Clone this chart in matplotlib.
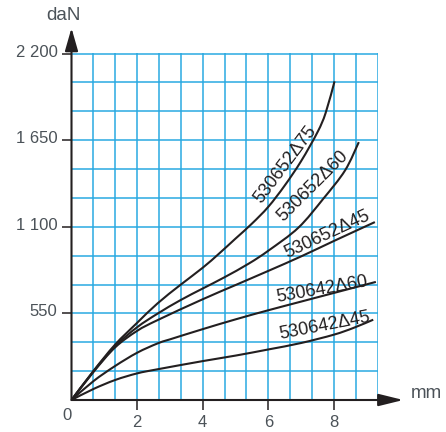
import numpy as np
import matplotlib
matplotlib.use('Agg')
from matplotlib import pyplot as plt
from matplotlib.path import Path
from matplotlib.patches import PathPatch
from matplotlib.transforms import ScaledTranslation

plt.rcParams['font.family'] = ['Liberation Sans', 'DejaVu Sans']

# curves: displacement (mm) -> force (daN)
x_652_75 = [0, 0.67, 1.33, 2, 2.62, 3.32, 4, 4.5, 5, 5.5, 6, 6.5, 7, 7.5, 7.75, 8.02]
y_652_75 = [0, 185, 352, 490, 613, 731, 840, 930, 1025, 1120, 1227, 1362, 1517, 1701, 1824, 2024]

x_652_60 = [0, 0.67, 1.33, 2, 2.62, 3.32, 4, 4.65, 5.41, 6.02, 6.92, 7.68, 8.34, 8.76]
y_652_60 = [0, 182, 342, 462, 548, 634, 708, 778, 867, 951, 1095, 1279, 1458, 1638]

x_652_45 = [0, 0.67, 1.33, 2, 2.62, 3.98, 5, 6, 7, 8, 9.25]
y_652_45 = [0, 178, 334, 439, 507, 638, 730, 820, 912, 1010, 1130]

x_642_60 = [0, 0.67, 1.33, 2, 2.62, 3, 4, 5, 6, 7, 8, 9.28]
y_642_60 = [0, 120, 216, 300, 359, 385, 450, 512, 570, 625, 680, 750]

x_642_45 = [0, 0.67, 1.33, 2, 2.62, 4, 5, 6, 7, 8, 8.6, 9.2]
y_642_45 = [0, 70, 127, 169, 195, 247, 282, 321, 362, 415, 458, 510]

names = ['530652Δ75', '530652Δ60', '530652Δ45', '530642Δ60', '530642Δ45']
label_x = [6.52, 7.36, 7.8, 7.63, 7.71]
label_y = [1496, 1359, 1052, 702, 471]
label_rot = [53, 45, 25, 10, 11]

x_ticks = [2, 4, 6, 8]
y_ticks = [550, 1100, 1650, 2200]
y_ticklabels = ['550', '1 100', '1 650', '2 200']

ink = '#231f20'
tick_col = '#4b5258'
grid_col = '#29a9e1'


def smooth_path(xs, ys):
    # bezier through the read points (catmull-rom style control points)
    p = np.column_stack([xs, ys]).astype(float)
    ext = np.vstack([p[0], p, p[-1]])
    verts = [p[0]]
    codes = [Path.MOVETO]
    for i in range(len(p) - 1):
        p0, p1, p2, p3 = ext[i], ext[i + 1], ext[i + 2], ext[i + 3]
        verts += [p1 + (p2 - p0) / 6, p2 - (p3 - p1) / 6, p2]
        codes += [Path.CURVE4] * 3
    return Path(verts, codes)


fig = plt.figure(figsize=(4.46, 4.32), dpi=100)
ax = fig.add_axes([71.5/446, 32/432, 306.5/446, 347/432])

xmax = 28/3
ax.set_xlim(0, xmax + 0.012)
ax.set_ylim(0, 2200 + 4)

# blue grid: 2/3 mm by 2200/12 daN
ax.set_xticks(np.arange(1, 15) * 2/3, minor=True)
ax.set_yticks(np.arange(1, 13) * 2200/12, minor=True)
ax.set_xticks(x_ticks)
ax.set_yticks(y_ticks)
ax.set_yticklabels(y_ticklabels)
ax.grid(which='both', color=grid_col, lw=1.1)
ax.tick_params(which='minor', length=0)
ax.set_axisbelow(True)

ax.tick_params(which='major', direction='out', length=7, width=1.1, color=ink,
               labelsize=12, labelcolor=tick_col)
ax.tick_params(axis='x', pad=4)
ax.tick_params(axis='y', pad=3)
for lab in ax.get_yticklabels():
    lab.set_transform(lab.get_transform() + ScaledTranslation(0, 2.2/72, fig.dpi_scale_trans))

for s in ax.spines.values():
    s.set_visible(False)

curves = [(x_652_75, y_652_75), (x_652_60, y_652_60), (x_652_45, y_652_45),
          (x_642_60, y_642_60), (x_642_45, y_642_45)]
for (cx, cy) in curves:
    ax.add_patch(PathPatch(smooth_path(cx, cy), fill=False, edgecolor=ink, lw=1.5,
                           capstyle='butt', zorder=3))

for name, lx, ly, r in zip(names, label_x, label_y, label_rot):
    ax.text(lx, ly, name, rotation=r, rotation_mode='anchor', ha='center', va='center',
            fontsize=13, color=ink, zorder=4)

# axes with arrows
ax.annotate('', xy=(0, 1.072), xytext=(0, 0), xycoords='axes fraction',
            arrowprops=dict(arrowstyle='-|>,head_length=1.4,head_width=0.4', lw=1.5,
                            color=ink, shrinkA=0, shrinkB=0, mutation_scale=10),
            annotation_clip=False)
ax.annotate('', xy=(1.0826, 0), xytext=(0, 0), xycoords='axes fraction',
            arrowprops=dict(arrowstyle='-|>,head_length=1.5,head_width=0.37', lw=1.5,
                            color=ink, shrinkA=0, shrinkB=0, mutation_scale=10),
            annotation_clip=False)

ax.text(-0.026, 1.1095, 'daN', transform=ax.transAxes, ha='center', va='center',
        fontsize=13.5, color=tick_col)
ax.text(1.1566, 0.0173, 'mm', transform=ax.transAxes, ha='center', va='center',
        fontsize=13.5, color=tick_col)
ax.text(-0.015, -0.046, '0', transform=ax.transAxes, ha='center', va='center',
        fontsize=12, color=tick_col)

fig.savefig('out.png', dpi=100)
